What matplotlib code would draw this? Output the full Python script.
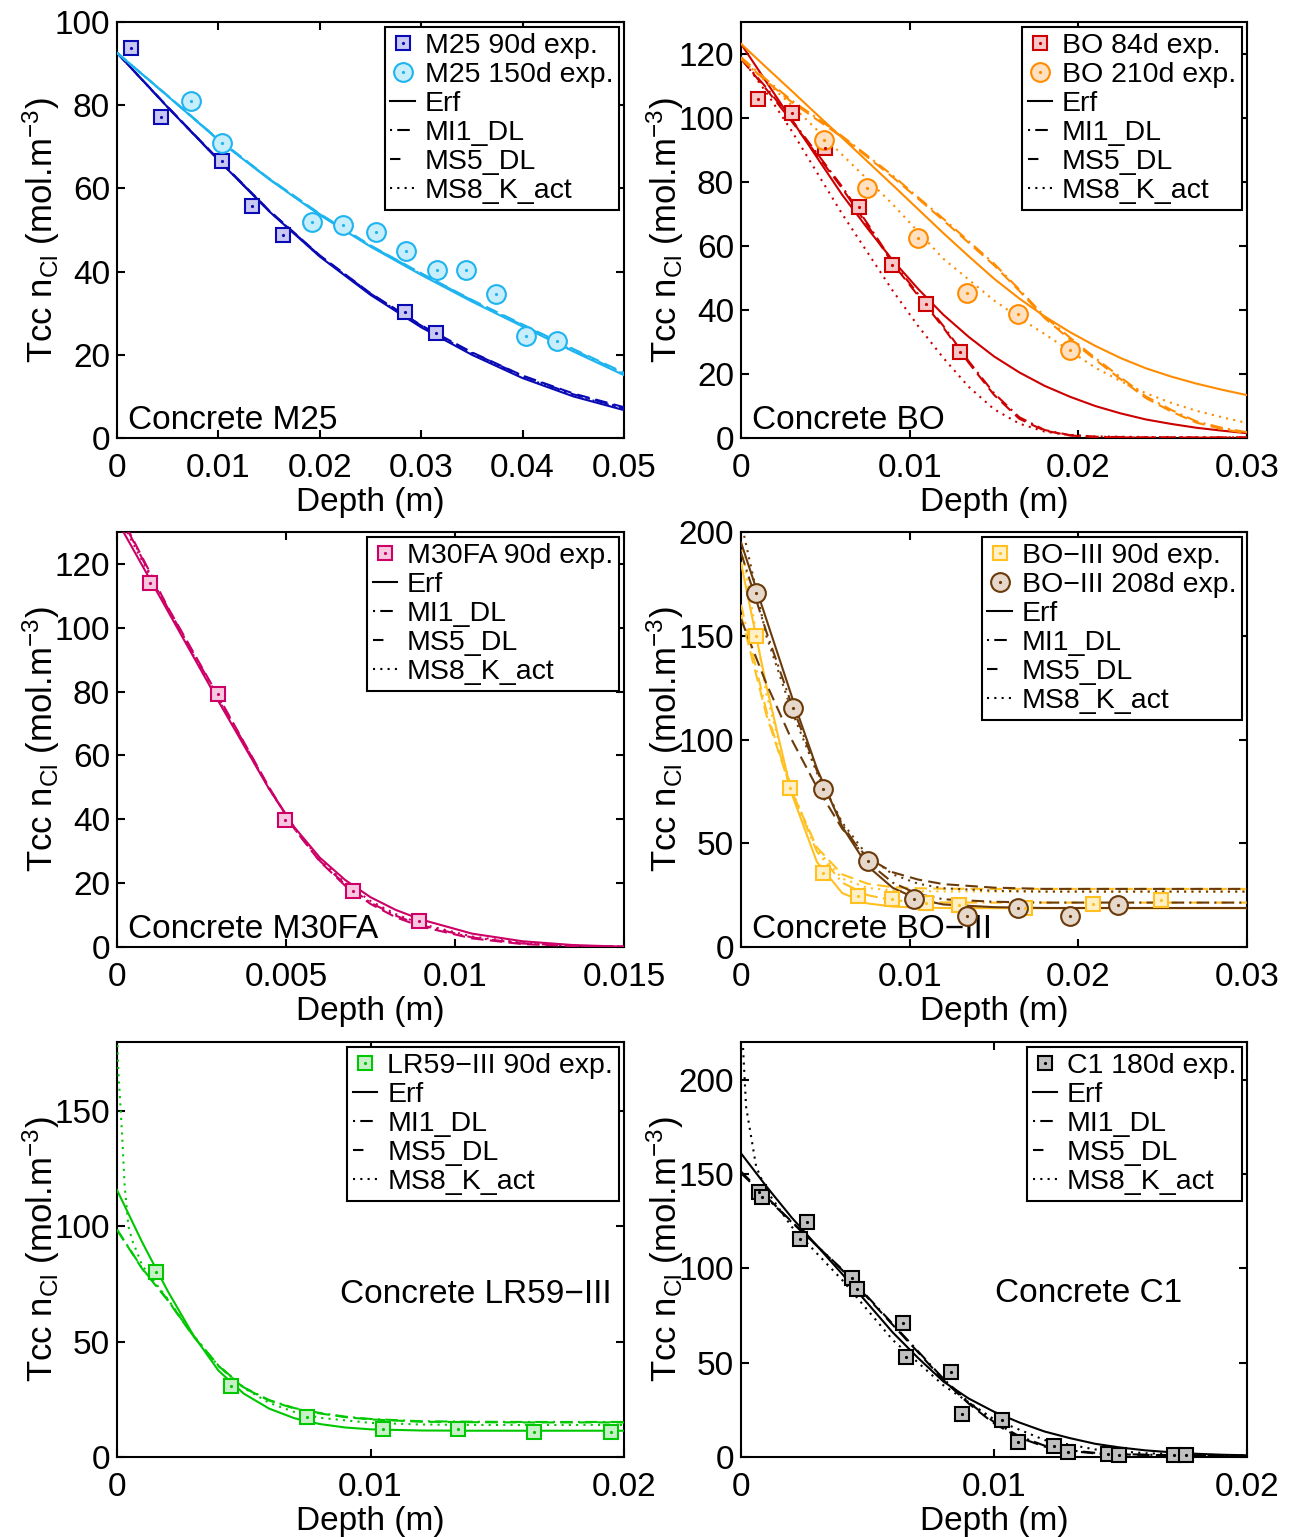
import matplotlib
matplotlib.use('Agg')
import matplotlib.pyplot as plt
from matplotlib.lines import Line2D
from matplotlib.ticker import FuncFormatter

plt.rcParams['font.family'] = ['Liberation Sans', 'DejaVu Sans']
plt.rcParams['mathtext.fontset'] = 'custom'
plt.rcParams['mathtext.rm'] = 'Liberation Sans'
plt.rcParams['mathtext.it'] = 'Liberation Sans:italic'
plt.rcParams['mathtext.default'] = 'regular'

W, H = 1299, 1537

'''数据：每个面板的实验点和四条模型曲线（从图上读出）'''
model_names = ['Erf', 'MI1_DL', 'MS5_DL', 'MS8_K_act']

# --- Concrete M25 ---
m25_90_x = [0.00138, 0.00434, 0.01032, 0.01335, 0.01634, 0.02837, 0.03146]
m25_90_y = [93.7, 77.2, 66.5, 55.8, 48.8, 30.3, 25.2]
m25_150_x = [0.00733, 0.01032, 0.01926, 0.02232, 0.02551, 0.0285, 0.03153, 0.03442, 0.03734, 0.04037, 0.04339]
m25_150_y = [81.1, 70.9, 51.9, 51.2, 49.4, 45.0, 40.4, 40.4, 34.7, 24.6, 23.3]
m25_depth = [0, 0.005, 0.01, 0.015, 0.02, 0.025, 0.03, 0.035, 0.04, 0.045, 0.05]
m25_90_erf = [92.6, 79.5, 66.8, 54.5, 43.6, 34.4, 26.6, 20.0, 14.4, 10.0, 6.7]
m25_90_mi1 = [92.6, 79.5, 66.9, 54.6, 43.8, 34.7, 27.0, 20.5, 14.9, 10.5, 7.2]
m25_90_ms5 = [92.6, 79.6, 67.0, 54.7, 43.9, 34.8, 27.1, 20.6, 15.0, 10.7, 7.4]
m25_90_ms8 = [92.6, 79.5, 66.9, 54.6, 43.7, 34.6, 26.9, 20.3, 14.7, 10.3, 7.0]
m25_150_erf = [92.6, 82.2, 71.6, 62.2, 53.6, 46.0, 39.2, 32.8, 26.8, 20.8, 15.1]
m25_150_mi1 = [92.6, 82.2, 71.7, 62.3, 53.8, 46.2, 39.5, 33.1, 27.1, 21.2, 15.5]
m25_150_ms5 = [92.6, 82.3, 71.8, 62.4, 53.9, 46.3, 39.6, 33.2, 27.3, 21.4, 15.7]
m25_150_ms8 = [92.6, 82.2, 71.7, 62.3, 53.7, 46.1, 39.4, 33.0, 27.0, 21.0, 15.3]

# --- Concrete BO ---
bo_84_x = [0.00103, 0.00304, 0.00498, 0.00702, 0.00895, 0.01097, 0.01298]
bo_84_y = [105.9, 101.7, 90.7, 72.3, 54.0, 41.9, 27.0]
bo_210_x = [0.00494, 0.00747, 0.01047, 0.0134, 0.01644, 0.01953]
bo_210_y = [93.1, 78.2, 62.5, 45.4, 38.6, 27.5]
bo_depth = [0, 0.0015, 0.003, 0.0045, 0.006, 0.0075, 0.009, 0.0105, 0.012, 0.0135, 0.015,
            0.0165, 0.018, 0.0195, 0.021, 0.0225, 0.024, 0.0255, 0.027, 0.0285, 0.03]
bo_84_erf = [123.2, 111.3, 99.5, 87.7, 76.0, 65.5, 55.5, 46.6, 38.5, 31.6, 25.5,
             20.5, 16.3, 12.9, 10.0, 7.7, 5.8, 4.4, 3.2, 2.3, 1.5]
bo_84_mi1 = [118.5, 109.5, 99.5, 89.0, 78.5, 67.0, 55.0, 45.0, 35.0, 24.0, 14.0,
             6.5, 2.5, 0.9, 0.4, 0.3, 0.2, 0.2, 0.2, 0.2, 0.2]
bo_84_ms5 = [118.5, 109.0, 99.0, 88.5, 78.0, 66.5, 54.5, 44.5, 34.5, 23.5, 13.5,
             6.0, 2.3, 0.8, 0.3, 0.2, 0.1, 0.1, 0.1, 0.1, 0.1]
bo_84_ms8 = [119.0, 108.0, 96.0, 83.0, 70.0, 58.0, 46.0, 35.0, 25.0, 16.0, 9.0,
             4.5, 2.0, 0.9, 0.5, 0.4, 0.3, 0.3, 0.2, 0.2, 0.2]
bo_210_erf = [123.2, 115.8, 108.5, 101.1, 93.8, 86.4, 79.0, 71.5, 64.0, 56.8, 49.8,
              43.6, 38.0, 33.1, 28.8, 25.0, 21.8, 19.2, 17.0, 15.1, 13.4]
bo_210_mi1 = [119.0, 112.0, 105.5, 100.0, 94.3, 88.2, 82.0, 75.2, 68.5, 61.5, 54.5,
              46.4, 38.0, 31.4, 25.0, 19.0, 13.0, 8.8, 5.2, 3.2, 1.8]
bo_210_ms5 = [118.5, 111.5, 105.0, 99.5, 94.0, 87.8, 81.5, 74.8, 68.0, 61.0, 54.0,
              46.0, 37.5, 30.8, 24.5, 18.4, 12.5, 8.3, 4.8, 2.8, 1.5]
bo_210_ms8 = [118.5, 111.3, 104.0, 96.3, 88.5, 80.8, 73.0, 64.5, 56.0, 49.5, 43.0,
              37.5, 32.5, 27.2, 22.0, 17.8, 14.0, 11.0, 8.5, 6.5, 4.7]

# --- Concrete M30FA ---
m30_90_x = [0.000986, 0.00298, 0.00497, 0.00698, 0.00894]
m30_90_y = [113.9, 79.3, 39.8, 17.6, 8.1]
m30_depth = [0, 0.0015, 0.003, 0.0045, 0.00525, 0.006, 0.00675, 0.0075, 0.00825, 0.009,
             0.0105, 0.012, 0.0135, 0.015]
m30_erf = [133.6, 105.3, 77.0, 49.5, 37.5, 28.0, 21.0, 15.6, 11.6, 8.6, 4.2, 1.8, 0.6, 0.1]
m30_mi1 = [137.0, 106.2, 78.2, 49.8, 37.0, 27.0, 19.6, 13.9, 9.8, 6.8, 3.0, 1.1, 0.4, 0.1]
m30_ms5 = [137.5, 106.5, 78.5, 50.0, 37.0, 26.8, 19.2, 13.5, 9.3, 6.4, 2.7, 0.9, 0.3, 0.1]
m30_ms8 = [136.0, 105.8, 77.6, 49.6, 37.2, 27.4, 20.1, 14.4, 10.3, 7.2, 3.3, 1.3, 0.4, 0.1]

# --- Concrete BO-III ---
bo3_90_x = [0.00091, 0.00291, 0.00486, 0.00692, 0.00893, 0.01097, 0.01292, 0.01684, 0.02089, 0.0249]
bo3_90_y = [149.9, 76.5, 35.5, 24.7, 23.0, 21.0, 20.4, 19.0, 20.6, 22.7]
bo3_208_x = [0.00091, 0.0031, 0.00488, 0.00751, 0.01028, 0.01342, 0.0164, 0.01953, 0.02237]
bo3_208_y = [170.8, 115.3, 76.3, 41.4, 23.1, 15.1, 18.6, 15.1, 20.2]
bo3_depth = [0, 0.0015, 0.003, 0.0045, 0.006, 0.0075, 0.009, 0.0105, 0.012, 0.015, 0.018, 0.021, 0.024, 0.027, 0.03]
bo3_90_erf = [185, 126, 74, 41, 26, 21, 19.5, 19.0, 18.8, 18.7, 18.7, 18.7, 18.7, 18.7, 18.7]
bo3_90_mi1 = [165, 114, 75, 46, 31, 25, 22.5, 21.8, 21.5, 21.4, 21.4, 21.4, 21.4, 21.4, 21.4]
bo3_90_ms5 = [160, 112, 75, 48, 35, 30.5, 28.8, 28.3, 28.1, 28.0, 28.0, 28.0, 28.0, 28.0, 28.0]
bo3_90_ms8 = [195, 122, 76, 47, 33, 28.5, 27.2, 26.9, 26.8, 26.7, 26.7, 26.7, 26.7, 26.7, 26.7]
bo3_208_erf = [195, 158, 121, 86, 58, 39, 28.5, 23, 20.5, 19.2, 18.8, 18.8, 18.8, 18.8, 18.8]
bo3_208_mi1 = [190, 152, 117, 85, 59, 41, 31, 25.5, 23, 21.8, 21.4, 21.4, 21.4, 21.4, 21.4]
bo3_208_ms5 = [158, 127, 100, 77, 57, 43, 36, 32.5, 30.3, 28.6, 28.0, 28.0, 28.0, 28.0, 28.0]
bo3_208_ms8 = [205, 150, 114, 84, 60, 44, 35, 30.5, 28.3, 27.1, 26.7, 26.7, 26.7, 26.7, 26.7]

# --- Concrete LR59-III ---
lr_90_x = [0.00153, 0.00448, 0.00751, 0.01051, 0.01346, 0.01646, 0.01947]
lr_90_y = [80.4, 30.6, 17.5, 12.0, 12.0, 11.0, 10.8]
lr_depth = [0, 0.001, 0.002, 0.003, 0.004, 0.005, 0.006, 0.007, 0.008, 0.009, 0.01,
            0.012, 0.014, 0.016, 0.018, 0.02]
lr_erf = [115.8, 93, 72, 53, 37.5, 27.5, 21, 16.8, 14.3, 12.8, 12.0, 11.5, 11.4, 11.4, 11.4, 11.4]
lr_mi1 = [98.7, 81.7, 68.2, 52.7, 39.7, 30.2, 24.7, 21.2, 19.1, 17.5, 16.5, 15.5, 15.3, 15.2, 15.2, 15.2]
lr_ms5 = [98.5, 81.5, 68, 52.5, 39.5, 30, 24.5, 21, 18.9, 17.3, 16.3, 15.3, 15.1, 15.0, 15.0, 15.0]
lr_depth_ms8 = [0, 0.00005, 0.00012, 0.0002, 0.0003, 0.00045, 0.0006, 0.001, 0.002, 0.003, 0.004,
                0.005, 0.006, 0.007, 0.008, 0.01, 0.012, 0.014, 0.016, 0.018, 0.02]
lr_ms8 = [185, 168, 155, 140, 118, 100, 94, 83, 68.5, 53, 39.5, 30, 23.5, 19.5, 17, 14.8, 14.1,
          13.9, 13.9, 13.9, 13.9]

# --- Concrete C1 ---
c1_180_x = [0.00072, 0.00082, 0.0026, 0.00235, 0.00437, 0.00457, 0.00639, 0.00652, 0.0083, 0.00874,
            0.01032, 0.01094, 0.01237, 0.01291, 0.01449, 0.01494, 0.01711, 0.01757]
c1_180_y = [140.7, 138.0, 124.6, 115.4, 94.7, 89.2, 70.9, 53.2, 45.1, 22.8,
            19.4, 8.0, 5.8, 2.7, 1.5, 0.8, 1.0, 1.0]
c1_depth = [0, 0.001, 0.002, 0.003, 0.004, 0.005, 0.006, 0.007, 0.008, 0.009, 0.01,
            0.011, 0.012, 0.013, 0.014, 0.015, 0.016, 0.017, 0.018, 0.019, 0.02]
c1_erf = [161, 143.5, 127, 112, 97, 81.5, 66, 52.5, 40, 31, 24, 18.3, 13.5, 10, 7, 5, 3.5,
          2.5, 1.7, 1.2, 0.9]
c1_mi1 = [150.5, 137.5, 124.5, 112, 99.5, 85, 70.5, 56, 41.5, 29, 18.5, 11, 6.0, 3.5, 2.2,
          1.6, 1.2, 1.0, 0.8, 0.7, 0.6]
c1_ms5 = [151.3, 138, 124.8, 112, 99.1, 84.5, 70, 55.5, 40.8, 28.3, 17.8, 10.3, 5.5, 3.2, 1.9,
          1.4, 1.1, 0.9, 0.7, 0.6, 0.5]
c1_depth_ms8 = [0, 0.0001, 0.0002, 0.0004, 0.0006, 0.001, 0.002, 0.004, 0.006, 0.008, 0.01,
                0.012, 0.014, 0.016, 0.018, 0.02]
c1_ms8 = [240, 212, 185.7, 169.8, 153.9, 141.5, 122.1, 93.8, 62, 38, 20, 9.0, 4.0, 2.0, 1.2, 0.9]

'''样式'''
line_styles = {'Erf': '-', 'MI1_DL': (0, (6, 2.5, 1, 2.5)),
               'MS5_DL': (0, (6, 3)), 'MS8_K_act': (0, (1, 2.5))}
# 图例里的线型（MATLAB 图例只显示一小段）
legend_styles = {'Erf': '-', 'MI1_DL': (0, (1, 2.5, 6, 10)),
                 'MS5_DL': (0, (5, 20)), 'MS8_K_act': (0, (1, 2.5))}
LW = 1.5
FS = 24
LEG_FS = 20.5


def add_axes_px(fig, l, t, r, b):
    # 按像素坐标添加坐标轴
    return fig.add_axes([l / W, 1 - b / H, (r - l) / W, (b - t) / H])


def plot_exp(ax, x, y, marker, color, face, ms):
    # 实验点：方块/圆圈 + 中心小点
    ax.plot(x, y, ls='none', marker=marker, ms=ms, mec=color, mfc=face, mew=1.5, zorder=4, clip_on=False)
    ax.plot(x, y, ls='none', marker='o', ms=2.3, mec=color, mfc=color, mew=0, zorder=5, clip_on=False)
    h1 = Line2D([], [], ls='none', marker=marker, ms=ms, mec=color, mfc=face, mew=1.5)
    h2 = Line2D([], [], ls='none', marker='o', ms=2.3, mec=color, mfc=color, mew=0)
    return (h1, h2)


def plot_models(ax, color, curves):
    # curves: [(x, y), ...] 按 model_names 顺序
    for name, (x, y) in zip(model_names, curves):
        ax.plot(x, y, color=color, lw=LW, ls=line_styles[name], zorder=3)


def setup_axes(ax, xlim, ylim, xticks, yticks):
    ax.set_xlim(xlim)
    ax.set_ylim(ylim)
    ax.set_xticks(xticks)
    ax.set_yticks(yticks)
    ax.xaxis.set_major_formatter(FuncFormatter(lambda v, p: '%g' % v))
    ax.yaxis.set_major_formatter(FuncFormatter(lambda v, p: '%g' % v))
    ax.tick_params(direction='in', length=6, width=1.5, top=True, right=True, labelsize=FS)
    ax.tick_params(axis='x', pad=11)
    ax.tick_params(axis='y', pad=5)
    for s in ax.spines.values():
        s.set_linewidth(1.5)
    ax.set_xlabel('Depth (m)', fontsize=FS, labelpad=2)
    ax.set_ylabel(r'Tcc n$_{\rm Cl}$ (mol.m$^{-3}$)', fontsize=25)
    ax.yaxis.set_label_coords(-0.108, 0.5)


def add_legend(ax, exp_handles, exp_labels):
    handles = list(exp_handles)
    labels = list(exp_labels)
    for name in model_names:
        handles.append(Line2D([], [], color='black', lw=LW, ls=legend_styles[name]))
        labels.append(name)
    leg = ax.legend(handles, labels, loc='upper right', bbox_to_anchor=(0.99, 0.988),
                    borderaxespad=0, fancybox=False, edgecolor='black', framealpha=1,
                    fontsize=LEG_FS, handlelength=0.85, handletextpad=0.35,
                    borderpad=0.2, labelspacing=0.11)
    leg.get_frame().set_linewidth(1.5)
    leg.set_zorder(10)


if __name__ == '__main__':

    fig = plt.figure(figsize=(W / 100, H / 100), dpi=100)

    # ---- Concrete M25 ----
    ax = add_axes_px(fig, 117, 22, 624, 438)
    plot_models(ax, '#0A0AB4', [(m25_depth, m25_90_erf), (m25_depth, m25_90_mi1),
                                (m25_depth, m25_90_ms5), (m25_depth, m25_90_ms8)])
    plot_models(ax, '#1EB4F0', [(m25_depth, m25_150_erf), (m25_depth, m25_150_mi1),
                                (m25_depth, m25_150_ms5), (m25_depth, m25_150_ms8)])
    h_a = plot_exp(ax, m25_90_x, m25_90_y, 's', '#0A0AB4', '#C8C8F2', 10.5)
    h_b = plot_exp(ax, m25_150_x, m25_150_y, 'o', '#1EB4F0', '#C8EEFC', 13.5)
    setup_axes(ax, (0, 0.05), (0, 100), [0, 0.01, 0.02, 0.03, 0.04, 0.05], range(0, 101, 20))
    add_legend(ax, [h_a, h_b], ['M25 90d exp.', 'M25 150d exp.'])
    ax.text(0.0217, 0.0216, 'Concrete M25', transform=ax.transAxes, fontsize=FS, va='baseline')

    # ---- Concrete BO ----
    ax = add_axes_px(fig, 741, 22, 1247, 438)
    plot_models(ax, '#CC0000', [(bo_depth, bo_84_erf), (bo_depth, bo_84_mi1),
                                (bo_depth, bo_84_ms5), (bo_depth, bo_84_ms8)])
    plot_models(ax, '#FF8C00', [(bo_depth, bo_210_erf), (bo_depth, bo_210_mi1),
                                (bo_depth, bo_210_ms5), (bo_depth, bo_210_ms8)])
    h_a = plot_exp(ax, bo_84_x, bo_84_y, 's', '#CC0000', '#F8C8C8', 10.5)
    h_b = plot_exp(ax, bo_210_x, bo_210_y, 'o', '#FF8C00', '#FFE0C0', 13.5)
    setup_axes(ax, (0, 0.03), (0, 130), [0, 0.01, 0.02, 0.03], range(0, 121, 20))
    add_legend(ax, [h_a, h_b], ['BO 84d exp.', 'BO 210d exp.'])
    ax.text(0.0217, 0.0216, 'Concrete BO', transform=ax.transAxes, fontsize=FS, va='baseline')

    # ---- Concrete M30FA ----
    ax = add_axes_px(fig, 117, 532, 624, 947)
    plot_models(ax, '#CC0066', [(m30_depth, m30_erf), (m30_depth, m30_mi1),
                                (m30_depth, m30_ms5), (m30_depth, m30_ms8)])
    h_a = plot_exp(ax, m30_90_x, m30_90_y, 's', '#CC0066', '#F8C8E0', 10.5)
    setup_axes(ax, (0, 0.015), (0, 130), [0, 0.005, 0.01, 0.015], range(0, 121, 20))
    add_legend(ax, [h_a], ['M30FA 90d exp.'])
    ax.text(0.0217, 0.0217, 'Concrete M30FA', transform=ax.transAxes, fontsize=FS, va='baseline')

    # ---- Concrete BO-III ----
    ax = add_axes_px(fig, 741, 532, 1247, 947)
    plot_models(ax, '#FFC020', [(bo3_depth, bo3_90_erf), (bo3_depth, bo3_90_mi1),
                                (bo3_depth, bo3_90_ms5), (bo3_depth, bo3_90_ms8)])
    plot_models(ax, '#6B3A0A', [(bo3_depth, bo3_208_erf), (bo3_depth, bo3_208_mi1),
                                (bo3_depth, bo3_208_ms5), (bo3_depth, bo3_208_ms8)])
    h_a = plot_exp(ax, bo3_90_x, bo3_90_y, 's', '#FFC020', '#FFF0C8', 10.5)
    h_b = plot_exp(ax, bo3_208_x, bo3_208_y, 'o', '#6B3A0A', '#E6D8CA', 13.5)
    setup_axes(ax, (0, 0.03), (0, 200), [0, 0.01, 0.02, 0.03], range(0, 201, 50))
    add_legend(ax, [h_a, h_b], ['BO\u2212III 90d exp.', 'BO\u2212III 208d exp.'])
    ax.text(0.0217, 0.0217, 'Concrete BO\u2212III', transform=ax.transAxes, fontsize=FS, va='baseline')

    # ---- Concrete LR59-III ----
    ax = add_axes_px(fig, 117, 1042, 624, 1457)
    plot_models(ax, '#00C800', [(lr_depth, lr_erf), (lr_depth, lr_mi1),
                                (lr_depth, lr_ms5), (lr_depth_ms8, lr_ms8)])
    h_a = plot_exp(ax, lr_90_x, lr_90_y, 's', '#00C800', '#C8F0C8', 10.5)
    setup_axes(ax, (0, 0.02), (0, 180), [0, 0.01, 0.02], range(0, 151, 50))
    add_legend(ax, [h_a], ['LR59\u2212III 90d exp.'])
    ax.text(0.976, 0.371, 'Concrete LR59\u2212III', transform=ax.transAxes, fontsize=FS,
            va='baseline', ha='right')

    # ---- Concrete C1 ----
    ax = add_axes_px(fig, 741, 1042, 1247, 1457)
    plot_models(ax, 'black', [(c1_depth, c1_erf), (c1_depth, c1_mi1),
                              (c1_depth, c1_ms5), (c1_depth_ms8, c1_ms8)])
    h_a = plot_exp(ax, c1_180_x, c1_180_y, 's', 'black', '#C0C0C0', 10.5)
    setup_axes(ax, (0, 0.02), (0, 220), [0, 0.01, 0.02], range(0, 201, 50))
    add_legend(ax, [h_a], ['C1 180d exp.'])
    ax.text(0.502, 0.373, 'Concrete C1', transform=ax.transAxes, fontsize=FS, va='baseline')

    fig.savefig('out.png', dpi=100)
